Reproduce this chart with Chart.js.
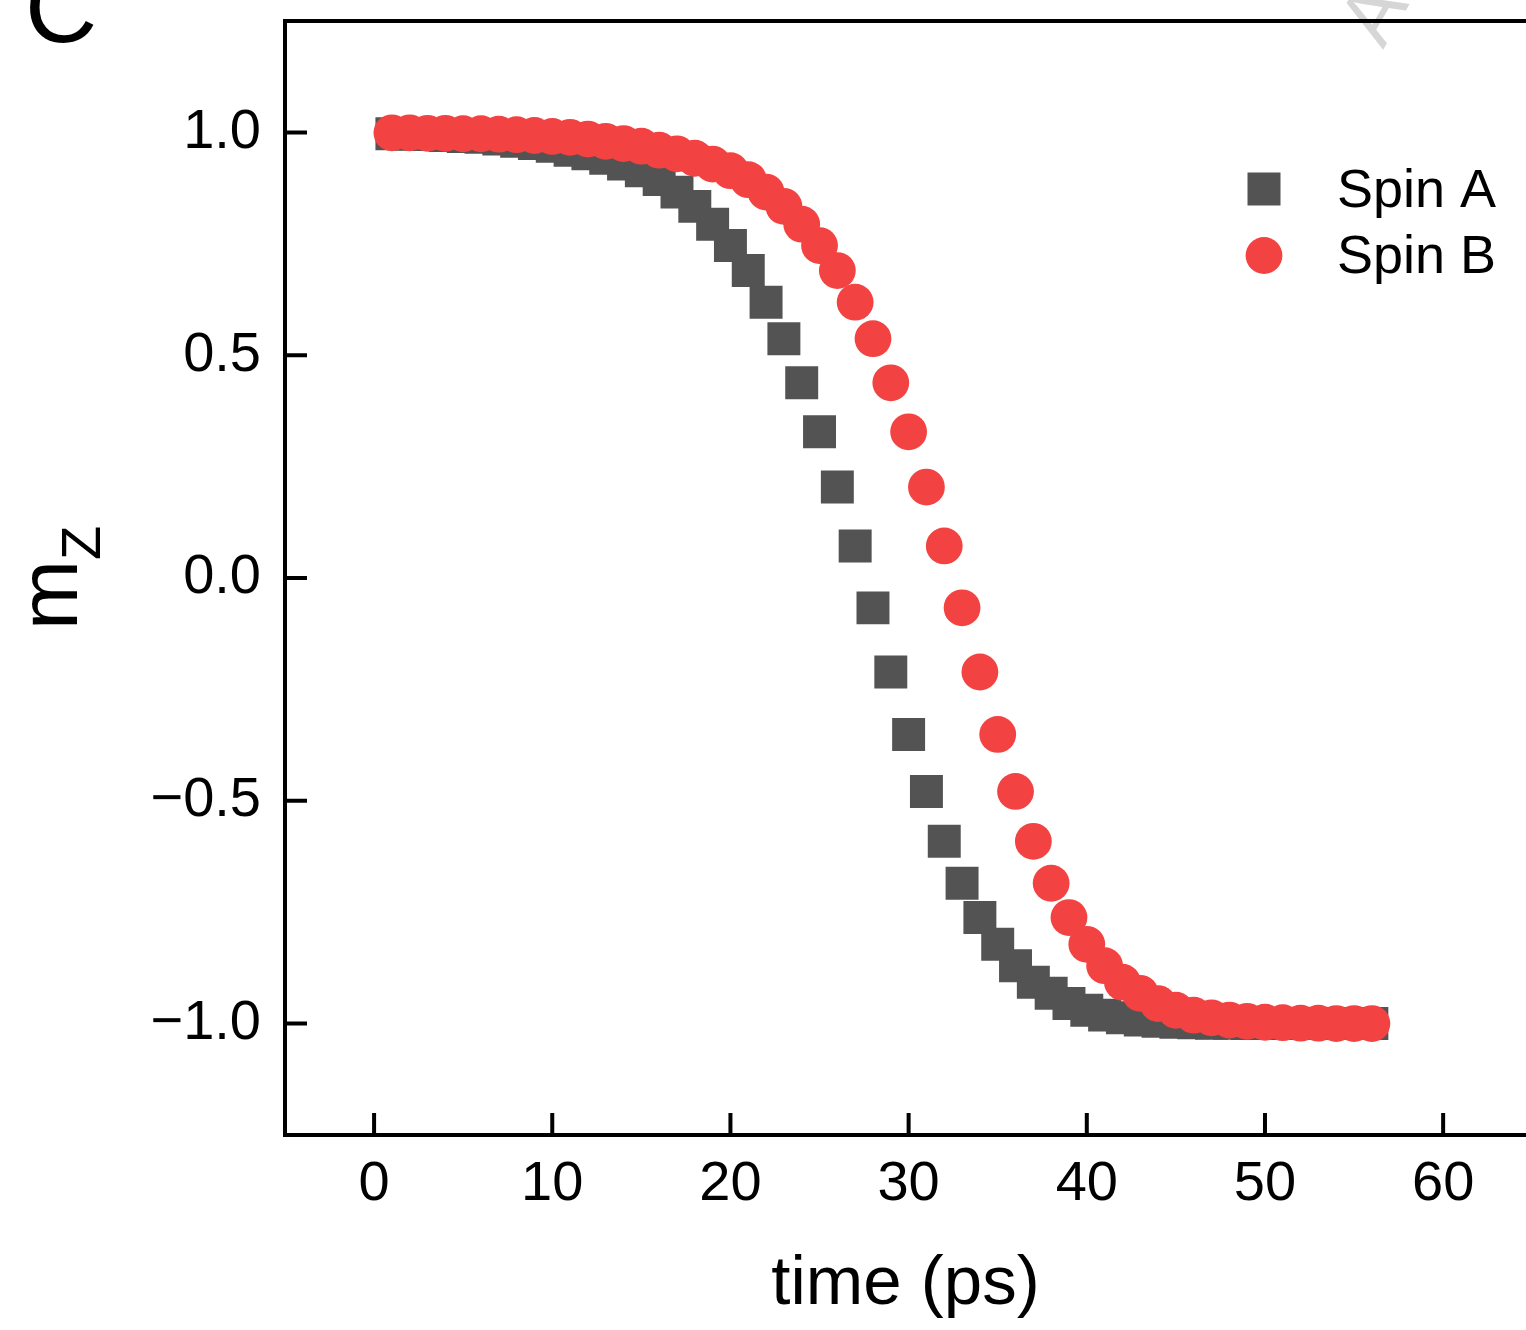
<!DOCTYPE html>
<html lang="en">
<head>
  <meta charset="UTF-8" />
  <title>m_z vs time</title>
  <style>
    html, body {
      margin: 0;
      padding: 0;
      background: #fff;
      overflow: hidden;
    }
    #wrap {
      width: 1526px;
      height: 1330px;
    }
  </style>
</head>
<body>

<div id="wrap"><canvas id="mzChart" width="1526" height="1330"></canvas></div>

<script src="https://cdn.jsdelivr.net/npm/chart.js"></script>
<script>
  // time steps (ps)
  const times = [
    1, 2, 3, 4, 5, 6, 7, 8, 9, 10, 11, 12, 13, 14, 15, 16, 17, 18, 19, 20,
    21, 22, 23, 24, 25, 26, 27, 28, 29, 30, 31, 32, 33, 34, 35, 36, 37, 38, 39, 40,
    41, 42, 43, 44, 45, 46, 47, 48, 49, 50, 51, 52, 53, 54, 55, 56
  ];

  const spinA = [
    0.997, 0.996, 0.995, 0.993, 0.991, 0.989, 0.985, 0.980, 0.975, 0.969,
    0.960, 0.952, 0.942, 0.929, 0.914, 0.894, 0.866, 0.834, 0.794, 0.746,
    0.690, 0.619, 0.537, 0.438, 0.328, 0.204, 0.072, -0.067, -0.211, -0.351,
    -0.479, -0.591, -0.685, -0.762, -0.822, -0.870, -0.907, -0.932, -0.955, -0.970,
    -0.981, -0.987, -0.992, -0.995, -0.997, -0.998, -0.999, -0.999, -1.0, -1.0,
    -1.0, -1.0, -1.0, -1.0, -1.0, -1.0
  ];

  const spinB = [
    0.999, 0.999, 0.998, 0.998, 0.997, 0.997, 0.996, 0.995, 0.993, 0.991,
    0.989, 0.985, 0.980, 0.975, 0.969, 0.960, 0.952, 0.942, 0.929, 0.914,
    0.894, 0.866, 0.834, 0.794, 0.746, 0.690, 0.619, 0.537, 0.438, 0.328,
    0.204, 0.072, -0.067, -0.211, -0.351, -0.479, -0.591, -0.685, -0.762, -0.822,
    -0.870, -0.907, -0.932, -0.955, -0.970, -0.981, -0.987, -0.992, -0.995, -0.997,
    -0.998, -0.999, -0.999, -1.0, -1.0, -1.0
  ];

  const xTicks = [0, 10, 20, 30, 40, 50, 60];
  const yTicks = [-1.0, -0.5, 0.0, 0.5, 1.0];

  const FONT = '"Liberation Sans", Arial, sans-serif';
  const grayA = '#535353';
  const redB = '#f34242';

  function fmtY(v) {
    return (v < 0 ? '\u2212' : '') + Math.abs(v).toFixed(1);
  }

  // inward ticks, top frame line, y title with subscript, legend, panel letter
  const decorations = {
    id: 'decorations',
    afterDraw(chart) {
      const { ctx, chartArea: area, scales: { x, y } } = chart;
      ctx.save();

      // faint watermark fragment top right
      ctx.save();
      ctx.translate(1383, 50);
      ctx.rotate(-Math.PI / 3);
      ctx.fillStyle = '#d6d6d6';
      ctx.font = '80px ' + FONT;
      ctx.fillText('A', 0, 0);
      ctx.restore();

      ctx.strokeStyle = '#000';
      ctx.lineWidth = 4;
      ctx.beginPath();
      ctx.moveTo(area.left - 2, area.top);
      ctx.lineTo(area.right, area.top);
      ctx.stroke();

      ctx.beginPath();
      x.ticks.forEach(t => {
        const px = x.getPixelForValue(t.value);
        ctx.moveTo(px, area.bottom);
        ctx.lineTo(px, area.bottom - 22);
      });
      y.ticks.forEach(t => {
        const py = y.getPixelForValue(t.value);
        ctx.moveTo(area.left, py);
        ctx.lineTo(area.left + 22, py);
      });
      ctx.stroke();

      // y axis title: m with subscript Z
      ctx.fillStyle = '#000';
      ctx.textBaseline = 'alphabetic';
      ctx.textAlign = 'left';
      ctx.font = '84px ' + FONT;
      const mW = ctx.measureText('m').width;
      ctx.font = '56px ' + FONT;
      const zW = ctx.measureText('Z').width;
      const midY = (area.top + area.bottom) / 2;
      ctx.save();
      ctx.translate(77, midY + (mW + zW) / 2);
      ctx.rotate(-Math.PI / 2);
      ctx.font = '84px ' + FONT;
      ctx.fillText('m', 0, 0);
      ctx.font = '56px ' + FONT;
      ctx.fillText('Z', mW, 23);
      ctx.restore();

      // legend
      const [dsA, dsB] = chart.data.datasets;
      const lx = 1264;
      ctx.fillStyle = dsA.pointBackgroundColor;
      ctx.fillRect(lx - 16.5, 189 - 16.5, 33, 33);
      ctx.fillStyle = dsB.pointBackgroundColor;
      ctx.beginPath();
      ctx.arc(lx, 255.5, 18.4, 0, Math.PI * 2);
      ctx.fill();
      ctx.fillStyle = '#000';
      ctx.font = '54px ' + FONT;
      ctx.fillText(dsA.label, 1337, 207);
      ctx.fillText(dsB.label, 1337, 273);

      // panel letter
      ctx.font = '100px ' + FONT;
      ctx.fillText('C', 25, 42);

      ctx.restore();
    }
  };

  const ctx = document.getElementById('mzChart').getContext('2d');
  const mzChart = new Chart(ctx, {
    type: 'scatter',
    data: {
      datasets: [
        {
          label: 'Spin A',
          data: times.map((t, i) => ({ x: t, y: spinA[i] })),
          pointStyle: 'rect',
          pointRadius: 23.3,
          pointHoverRadius: 23.3,
          pointBackgroundColor: grayA,
          pointBorderWidth: 0,
          order: 1
        },
        {
          label: 'Spin B',
          data: times.map((t, i) => ({ x: t, y: spinB[i] })),
          pointStyle: 'circle',
          pointRadius: 18.4,
          pointHoverRadius: 18.4,
          pointBackgroundColor: redB,
          pointBorderWidth: 0,
          order: 0
        }
      ]
    },
    options: {
      responsive: false,
      animation: false,
      events: [],
      layout: { autoPadding: false, padding: { top: 21, right: 0, bottom: 0, left: 0 } },
      plugins: {
        legend: { display: false },
        tooltip: { enabled: false }
      },
      scales: {
        x: {
          type: 'linear',
          min: -5,
          max: 64.65,
          grid: { display: false, drawTicks: false },
          border: { display: true, color: '#000', width: 4 },
          afterBuildTicks: s => { s.ticks = xTicks.map(v => ({ value: v })); },
          afterFit: s => { s.height = 195; s.paddingLeft = 0; s.paddingRight = 0; },
          ticks: {
            color: '#000',
            padding: 16,
            maxRotation: 0,
            font: { family: FONT, size: 56 },
            callback: v => String(v)
          },
          title: {
            display: true,
            text: 'time (ps)',
            color: '#000',
            font: { family: FONT, size: 69 },
            padding: { top: 0, bottom: 4 }
          }
        },
        y: {
          type: 'linear',
          min: -1.25,
          max: 1.25,
          grid: { display: false, drawTicks: false },
          border: { display: true, color: '#000', width: 4 },
          afterBuildTicks: s => { s.ticks = yTicks.map(v => ({ value: v })); },
          afterFit: s => { s.width = 285; s.paddingTop = 0; s.paddingBottom = 0; },
          ticks: {
            color: '#000',
            padding: 24,
            font: { family: FONT, size: 56 },
            callback: v => fmtY(v)
          },
          title: { display: false }
        }
      }
    },
    plugins: [decorations]
  });
</script>

</body>
</html>
